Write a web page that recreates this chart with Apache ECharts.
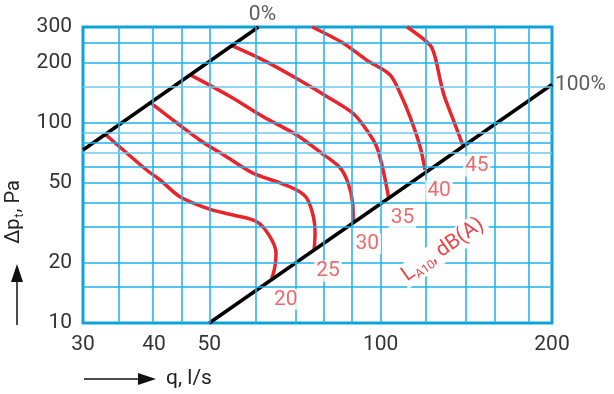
<!DOCTYPE html>
<html>
<head>
<meta charset="utf-8">
<script src="https://cdn.jsdelivr.net/npm/echarts@6/dist/echarts.min.js"></script>
<style>
  html, body { margin: 0; padding: 0; background: #fff; }
  #chart { width: 614px; height: 394px; }
</style>
</head>
<body>
<div id="chart"></div>
<script>
// axis ticks and grid (values in l/s and Pa)
const xTicks = [30, 40, 50, 100, 200]
const yTicks = [10, 20, 50, 100, 200, 300]
const xGrid = [35, 40, 45, 50, 60, 70, 80, 90, 100, 120, 140, 160, 180]
const yGridMajor = [15, 20, 30, 40, 50, 60, 80, 100, 200, 250]
const yGridMinor = [70, 90, 150]

// L_A10 levels, dB(A)
const levels = ['20', '25', '30', '35', '40', '45']

// [q, dpt]
const curve20 = [[32.9, 87], [38.8, 58.0], [41.0, 51.7], [44.4, 42.7], [50.2, 36.9], [55.1, 34.6], [60.6, 32.0], [63.9, 27.0], [65.5, 22.3], [65.2, 19.1], [64.4, 16.7]]
const curve25 = [[39.5, 125], [48.1, 81.9], [53.6, 67.6], [59.8, 55.8], [65.7, 50.7], [71.2, 46.1], [74.2, 41.9], [76.2, 33.9], [76.7, 28.0], [76.4, 23.1]]
const curve30 = [[46.3, 173], [54.4, 135], [62.2, 107], [71.2, 86.7], [78.8, 70.3], [84.8, 59.7], [87.7, 49.8], [89.3, 39.6], [89.5, 31.7]]
const curve35 = [[54.8, 242], [62.2, 205], [71.2, 166], [81.5, 132], [89.5, 111], [94.5, 91.9], [98.4, 75.8], [101, 58.0], [103.2, 42.7]]
const curve40 = [[75.8, 300], [86.0, 249], [94.5, 205], [103.9, 173], [108.2, 140], [112.6, 107], [117.3, 75.8], [119.7, 58.0]]
const curve45 = [[111.3, 300], [122.1, 244], [124.6, 213], [128.9, 140], [134.2, 103], [139.4, 77.3]]

// damper position lines
const line0 = [[30, 73], [61, 300]]
const line100 = [[50, 10], [200, 155]]

const curves = [curve20, curve25, curve30, curve35, curve40, curve45]

const lg = v => Math.log10(v)
const toLog = arr => arr.map(p => [lg(p[0]), lg(p[1])])
const fmt = v => String(Math.round(Math.pow(10, v)))

const RED = '#e8252b'
const FONT = 'Roboto'

const chart = echarts.init(document.getElementById('chart'))

const gridLine = (key, v, color) => ({
  [key]: lg(v),
  lineStyle: { color: color, width: 1.5, type: 'solid' }
})

chart.setOption({
  animation: false,
  grid: {
    left: 83,
    right: 62,
    top: 27,
    bottom: 71,
    show: true,
    borderColor: '#0ea3d8',
    borderWidth: 3,
    backgroundColor: '#fff'
  },
  xAxis: {
    type: 'value',
    min: lg(30),
    max: lg(200),
    axisLine: { show: false },
    axisTick: { show: false },
    splitLine: { show: false },
    axisLabel: {
      customValues: xTicks.map(lg),
      formatter: fmt,
      margin: 11,
      fontSize: 21,
      fontFamily: FONT,
      color: '#333'
    }
  },
  yAxis: {
    type: 'value',
    min: lg(10),
    max: lg(300),
    axisLine: { show: false },
    axisTick: { show: false },
    splitLine: { show: false },
    axisLabel: {
      customValues: yTicks.map(lg),
      formatter: fmt,
      margin: 11,
      fontSize: 21,
      fontFamily: FONT,
      color: '#333'
    }
  },
  series: [
    {
      // cyan grid
      type: 'line',
      data: [],
      silent: true,
      z: 1,
      markLine: {
        silent: true,
        symbol: 'none',
        label: { show: false },
        animation: false,
        data: [
          ...xGrid.map(v => gridLine('xAxis', v, '#1db2ea')),
          ...yGridMajor.map(v => gridLine('yAxis', v, '#1db2ea')),
          ...yGridMinor.map(v => gridLine('yAxis', v, '#6ccaf0'))
        ]
      }
    },
    ...curves.map((c, i) => ({
      name: levels[i],
      type: 'line',
      data: toLog(c),
      smooth: 0.3,
      showSymbol: false,
      z: 3,
      lineStyle: { color: RED, width: 3.5 }
    })),
    ...[line0, line100].map(l => ({
      type: 'line',
      data: toLog(l),
      showSymbol: false,
      z: 4,
      lineStyle: { color: '#000', width: 3.5 }
    })),
    {
      // level labels next to the 100% line
      type: 'scatter',
      symbolSize: 0,
      z: 5,
      data: curves.map((c, i) => ({
        value: toLog([c[c.length - 1]])[0],
        name: levels[i]
      })),
      label: {
        show: true,
        position: 'inside',
        offset: [14, 21],
        formatter: p => p.name,
        color: '#e8474a',
        fontSize: 21,
        fontFamily: FONT,
        backgroundColor: '#fff',
        padding: [0, 2]
      }
    },
    {
      type: 'scatter',
      symbolSize: 0,
      z: 5,
      data: [
        { value: toLog([line0[1]])[0], name: '0%', label: { position: 'top', distance: 2, offset: [4, 0] } },
        { value: toLog([line100[1]])[0], name: '100%', label: { position: 'right', distance: 3 } }
      ],
      label: {
        show: true,
        formatter: p => p.name,
        color: '#333',
        fontSize: 21,
        fontFamily: FONT
      }
    }
  ],
  graphic: [
    {
      type: 'text',
      x: 443,
      y: 250,
      rotation: 35 * Math.PI / 180,
      z: 10,
      style: {
        text: '{a|L}{s|A10}{a|, dB(A)}',
        align: 'center',
        verticalAlign: 'middle',
        backgroundColor: '#fff',
        padding: [0, 3],
        rich: {
          a: { fontSize: 21, fontFamily: FONT, fill: '#e8474a', lineHeight: 24 },
          s: { fontSize: 12, fontFamily: FONT, fill: '#e8474a', verticalAlign: 'bottom', lineHeight: 16 }
        }
      }
    },
    {
      type: 'text',
      x: 14,
      y: 212,
      rotation: Math.PI / 2,
      style: {
        text: '{a|Δp}{s|t}{a|, Pa}',
        align: 'center',
        verticalAlign: 'middle',
        rich: {
          a: { fontSize: 20, fontFamily: FONT, fill: '#222', lineHeight: 24 },
          s: { fontSize: 12, fontFamily: FONT, fill: '#222', verticalAlign: 'bottom', lineHeight: 16, padding: [0, 1, 0, 1] }
        }
      }
    },
    {
      type: 'line',
      shape: { x1: 17, y1: 325, x2: 17, y2: 278 },
      style: { stroke: '#111', lineWidth: 1.5 }
    },
    {
      type: 'polygon',
      shape: { points: [[17, 264], [11, 282], [23, 282]] },
      style: { fill: '#111' }
    },
    {
      type: 'line',
      shape: { x1: 84, y1: 379, x2: 142, y2: 379 },
      style: { stroke: '#111', lineWidth: 1.5 }
    },
    {
      type: 'polygon',
      shape: { points: [[156, 379], [138, 373], [138, 385]] },
      style: { fill: '#111' }
    },
    {
      type: 'text',
      x: 166,
      y: 379,
      style: {
        text: 'q, l/s',
        fontSize: 21,
        fontFamily: FONT,
        fill: '#222',
        align: 'left',
        verticalAlign: 'middle'
      }
    }
  ]
})
</script>
</body>
</html>
